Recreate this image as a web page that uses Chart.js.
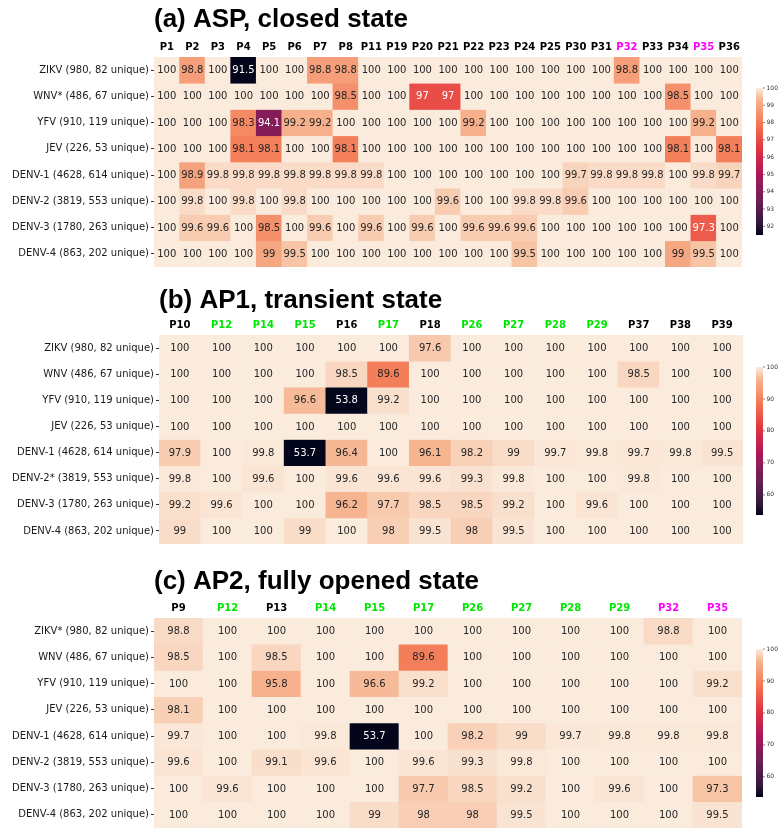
<!DOCTYPE html>
<html>
<head>
<meta charset="utf-8">
<script src="https://cdn.jsdelivr.net/npm/chart.js@4.4.0/dist/chart.umd.min.js"></script>
<style>
  body { margin: 0; background: #fff; }
  .panel { position: absolute; left: 0; width: 784px; }
</style>
</head>
<body>
<div class="panel" style="top:0;height:276px"><canvas id="chartA"></canvas></div>
<div class="panel" style="top:276px;height:276px"><canvas id="chartB"></canvas></div>
<div class="panel" style="top:552px;height:284px"><canvas id="chartC"></canvas></div>
<script>
// ---- data ----
const rowsA = ['ZIKV (980, 82 unique)', 'WNV* (486, 67 unique)', 'YFV (910, 119 unique)', 'JEV (226, 53 unique)',
  'DENV-1 (4628, 614 unique)', 'DENV-2 (3819, 553 unique)', 'DENV-3 (1780, 263 unique)', 'DENV-4 (863, 202 unique)'];
const colsA = ['P1', 'P2', 'P3', 'P4', 'P5', 'P6', 'P7', 'P8', 'P11', 'P19', 'P20', 'P21', 'P22', 'P23', 'P24',
  'P25', 'P30', 'P31', 'P32', 'P33', 'P34', 'P35', 'P36'];
const valsA = [
  [100, 98.8, 100, 91.5, 100, 100, 98.8, 98.8, 100, 100, 100, 100, 100, 100, 100, 100, 100, 100, 98.8, 100, 100, 100, 100],
  [100, 100, 100, 100, 100, 100, 100, 98.5, 100, 100, 97, 97, 100, 100, 100, 100, 100, 100, 100, 100, 98.5, 100, 100],
  [100, 100, 100, 98.3, 94.1, 99.2, 99.2, 100, 100, 100, 100, 100, 99.2, 100, 100, 100, 100, 100, 100, 100, 100, 99.2, 100],
  [100, 100, 100, 98.1, 98.1, 100, 100, 98.1, 100, 100, 100, 100, 100, 100, 100, 100, 100, 100, 100, 100, 98.1, 100, 98.1],
  [100, 98.9, 99.8, 99.8, 99.8, 99.8, 99.8, 99.8, 99.8, 100, 100, 100, 100, 100, 100, 100, 99.7, 99.8, 99.8, 99.8, 100, 99.8, 99.7],
  [100, 99.8, 100, 99.8, 100, 99.8, 100, 100, 100, 100, 100, 99.6, 100, 100, 99.8, 99.8, 99.6, 100, 100, 100, 100, 100, 100],
  [100, 99.6, 99.6, 100, 98.5, 100, 99.6, 100, 99.6, 100, 99.6, 100, 99.6, 99.6, 99.6, 100, 100, 100, 100, 100, 100, 97.3, 100],
  [100, 100, 100, 100, 99, 99.5, 100, 100, 100, 100, 100, 100, 100, 100, 99.5, 100, 100, 100, 100, 100, 99, 99.5, 100]
];
const rangeA = [91.5, 100];
const cbTicksA = [92, 93, 94, 95, 96, 97, 98, 99, 100];

const rowsB = ['ZIKV (980, 82 unique)', 'WNV (486, 67 unique)', 'YFV (910, 119 unique)', 'JEV (226, 53 unique)',
  'DENV-1 (4628, 614 unique)', 'DENV-2* (3819, 553 unique)', 'DENV-3 (1780, 263 unique)', 'DENV-4 (863, 202 unique)'];
const colsB = ['P10', 'P12', 'P14', 'P15', 'P16', 'P17', 'P18', 'P26', 'P27', 'P28', 'P29', 'P37', 'P38', 'P39'];
const valsB = [
  [100, 100, 100, 100, 100, 100, 97.6, 100, 100, 100, 100, 100, 100, 100],
  [100, 100, 100, 100, 98.5, 89.6, 100, 100, 100, 100, 100, 98.5, 100, 100],
  [100, 100, 100, 96.6, 53.8, 99.2, 100, 100, 100, 100, 100, 100, 100, 100],
  [100, 100, 100, 100, 100, 100, 100, 100, 100, 100, 100, 100, 100, 100],
  [97.9, 100, 99.8, 53.7, 96.4, 100, 96.1, 98.2, 99, 99.7, 99.8, 99.7, 99.8, 99.5],
  [99.8, 100, 99.6, 100, 99.6, 99.6, 99.6, 99.3, 99.8, 100, 100, 99.8, 100, 100],
  [99.2, 99.6, 100, 100, 96.2, 97.7, 98.5, 98.5, 99.2, 100, 99.6, 100, 100, 100],
  [99, 100, 100, 99, 100, 98, 99.5, 98, 99.5, 100, 100, 100, 100, 100]
];
const rangeB = [53.7, 100];
const cbTicksB = [60, 70, 80, 90, 100];

const rowsC = ['ZIKV* (980, 82 unique)', 'WNV (486, 67 unique)', 'YFV (910, 119 unique)', 'JEV (226, 53 unique)',
  'DENV-1 (4628, 614 unique)', 'DENV-2 (3819, 553 unique)', 'DENV-3 (1780, 263 unique)', 'DENV-4 (863, 202 unique)'];
const colsC = ['P9', 'P12', 'P13', 'P14', 'P15', 'P17', 'P26', 'P27', 'P28', 'P29', 'P32', 'P35'];
const valsC = [
  [98.8, 100, 100, 100, 100, 100, 100, 100, 100, 100, 98.8, 100],
  [98.5, 100, 98.5, 100, 100, 89.6, 100, 100, 100, 100, 100, 100],
  [100, 100, 95.8, 100, 96.6, 99.2, 100, 100, 100, 100, 100, 99.2],
  [98.1, 100, 100, 100, 100, 100, 100, 100, 100, 100, 100, 100],
  [99.7, 100, 100, 99.8, 53.7, 100, 98.2, 99, 99.7, 99.8, 99.8, 99.8],
  [99.6, 100, 99.1, 99.6, 100, 99.6, 99.3, 99.8, 100, 100, 100, 100],
  [100, 99.6, 100, 100, 100, 97.7, 98.5, 99.2, 100, 99.6, 100, 97.3],
  [100, 100, 100, 100, 99, 98, 98, 99.5, 100, 100, 100, 99.5]
];
const rangeC = [53.7, 100];
const cbTicksC = [60, 70, 80, 90, 100];

// highlighted pocket residues
const greenCols = ['P12', 'P14', 'P15', 'P17', 'P26', 'P27', 'P28', 'P29'];
const magentaCols = ['P32', 'P35'];

// ---- colours ----
// approximation of seaborn "rocket"
const rocket = [
  [0.0, [3, 5, 26]], [0.083, [53, 25, 62]], [0.25, [112, 31, 87]], [0.417, [173, 23, 89]],
  [0.583, [225, 51, 66]], [0.75, [243, 118, 81]], [0.917, [246, 180, 143]], [1.0, [250, 235, 221]]
];

function rocketColor(t) {
  t = Math.max(0, Math.min(1, t));
  for (var i = 1; i < rocket.length; i++) {
    if (t <= rocket[i][0]) {
      var a = rocket[i - 1], b = rocket[i];
      var f = (t - a[0]) / (b[0] - a[0]);
      var c = a[1].map(function (v, k) { return Math.round(v + f * (b[1][k] - v)); });
      return 'rgb(' + c.join(',') + ')';
    }
  }
  return 'rgb(250,235,221)';
}

function colLabelColor(name) {
  if (greenCols.indexOf(name) >= 0) return '#00e600';
  if (magentaCols.indexOf(name) >= 0) return '#ff00ff';
  return '#000';
}

// ---- plugins ----
const panelTitle = {
  id: 'panelTitle',
  afterDraw: function (chart, args, opts) {
    var ctx = chart.ctx;
    ctx.save();
    ctx.font = 'bold 26px "Liberation Sans", Arial, sans-serif';
    ctx.fillStyle = '#000';
    ctx.textAlign = 'left';
    ctx.textBaseline = 'alphabetic';
    ctx.fillText(opts.text, chart.chartArea.left, opts.y);
    ctx.restore();
  }
};

const cellText = {
  id: 'cellText',
  afterDatasetsDraw: function (chart, args, opts) {
    var ctx = chart.ctx;
    ctx.save();
    ctx.font = '10px "DejaVu Sans", sans-serif';
    ctx.textAlign = 'center';
    ctx.textBaseline = 'middle';
    chart.data.datasets.forEach(function (ds, r) {
      var meta = chart.getDatasetMeta(r);
      meta.data.forEach(function (bar, c) {
        var v = opts.values[r][c];
        var t = (v - opts.range[0]) / (opts.range[1] - opts.range[0]);
        ctx.fillStyle = t < 0.72 ? '#fff' : '#262626';
        ctx.fillText(String(v), bar.x, (bar.y + bar.base) / 2 + 0.5);
      });
    });
    ctx.restore();
  }
};

const colorBar = {
  id: 'colorBar',
  afterDraw: function (chart, args, opts) {
    var ctx = chart.ctx;
    var lo = opts.range[0], hi = opts.range[1];
    var x = opts.x, w = opts.width, top = opts.top, bottom = opts.bottom;
    ctx.save();
    var g = ctx.createLinearGradient(0, bottom, 0, top);
    rocket.forEach(function (s) { g.addColorStop(s[0], 'rgb(' + s[1].join(',') + ')'); });
    ctx.fillStyle = g;
    ctx.fillRect(x, top, w, bottom - top);
    ctx.strokeStyle = '#333';
    ctx.fillStyle = '#333';
    ctx.lineWidth = 0.6;
    ctx.font = '6px "DejaVu Sans", sans-serif';
    ctx.textAlign = 'left';
    ctx.textBaseline = 'middle';
    opts.ticks.forEach(function (v) {
      var y = bottom - (v - lo) / (hi - lo) * (bottom - top);
      ctx.beginPath();
      ctx.moveTo(x + w, y);
      ctx.lineTo(x + w + 2, y);
      ctx.stroke();
      ctx.fillText(String(v), x + w + 3.5, y);
    });
    ctx.restore();
  }
};

// ---- heatmap builder ----
function makeHeatmap(id, rows, cols, vals, range, cbTicks, title, layout) {
  var datasets = rows.map(function (name, r) {
    return {
      label: name,
      data: cols.map(function () { return [r, r + 1]; }),
      backgroundColor: function (ctx) {
        return rocketColor((vals[r][ctx.dataIndex] - range[0]) / (range[1] - range[0]));
      },
      borderWidth: 0,
      grouped: false,
      barPercentage: 1,
      categoryPercentage: 1
    };
  });

  return new Chart(document.getElementById(id), {
    type: 'bar',
    data: { labels: cols, datasets: datasets },
    options: {
      responsive: true,
      maintainAspectRatio: false,
      animation: false,
      layout: { padding: { top: 0, right: layout.right, bottom: layout.bottom, left: 0 } },
      scales: {
        x: {
          type: 'category',
          position: 'top',
          grid: { display: false, drawTicks: false },
          border: { display: false },
          ticks: {
            padding: 4,
            maxRotation: 0,
            autoSkip: false,
            font: { family: '"DejaVu Sans", sans-serif', size: 10, weight: 'bold' },
            color: function (ctx) { return colLabelColor(cols[ctx.index]); }
          },
          afterFit: function (s) { s.height = layout.top; }
        },
        y: {
          type: 'linear',
          min: 0,
          max: rows.length,
          reverse: true,
          grid: { display: true, drawOnChartArea: false, drawTicks: true, tickLength: 3, color: '#333' },
          border: { display: false },
          afterBuildTicks: function (s) {
            s.ticks = rows.map(function (_, i) { return { value: i + 0.5 }; });
          },
          ticks: {
            autoSkip: false,
            padding: 2,
            color: '#1a1a1a',
            font: { family: '"DejaVu Sans", sans-serif', size: 10 },
            callback: function (v, i) { return rows[i]; }
          },
          afterFit: function (s) { s.width = layout.left; }
        }
      },
      plugins: {
        legend: { display: false },
        tooltip: { enabled: false },
        title: { display: false },
        panelTitle: { text: title, y: layout.titleY },
        cellText: { values: vals, range: range },
        colorBar: { range: range, ticks: cbTicks, x: 756, width: 7, top: layout.cbTop, bottom: layout.cbBottom }
      }
    },
    plugins: [panelTitle, cellText, colorBar]
  });
}

makeHeatmap('chartA', rowsA, colsA, valsA, rangeA, cbTicksA, '(a) ASP, closed state',
  { left: 154, right: 42, top: 57, bottom: 9, titleY: 27, cbTop: 88, cbBottom: 235 });
makeHeatmap('chartB', rowsB, colsB, valsB, rangeB, cbTicksB, '(b) AP1, transient state',
  { left: 159, right: 41, top: 59, bottom: 7, titleY: 32, cbTop: 91, cbBottom: 239 });
makeHeatmap('chartC', rowsC, colsC, valsC, rangeC, cbTicksC, '(c) AP2, fully opened state',
  { left: 154, right: 42, top: 66, bottom: 8, titleY: 37, cbTop: 97, cbBottom: 245 });
</script>
</body>
</html>
